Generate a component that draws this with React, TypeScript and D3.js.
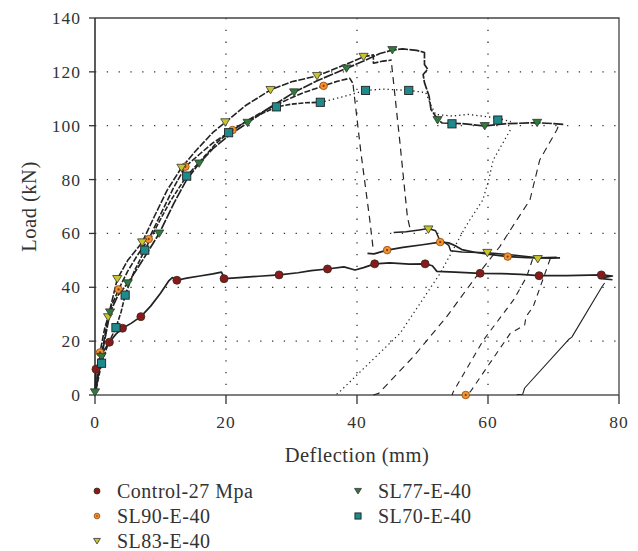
import React from "react";
import * as d3 from "d3";

// ---------- data ----------
type P = [number, number];

const xTicks = [0, 20, 40, 60, 80];
const yTicks = [0, 20, 40, 60, 80, 100, 120, 140];
const xGrid = [20, 40, 60];
const yGrid = [20, 40, 60, 80, 100, 120];

const legendNames = ["Control-27 Mpa", "SL90-E-40", "SL83-E-40", "SL77-E-40", "SL70-E-40"];

// Control-27 Mpa
const controlCurve: P[] = [
  [0, 0], [0.15, 9.6], [1, 15.2], [2.2, 19.6], [3.2, 22.6], [4.2, 24.8], [5.5, 26.6], [7, 29.1],
  [8.5, 33], [10, 37.8], [11.3, 42.5], [11.8, 43.6], [12.5, 42.6], [14, 43.4], [16, 44.2],
  [18, 45], [19.3, 45.6], [19.8, 43.2], [22, 43.6], [25, 44.1], [28.1, 44.6], [31, 45.4],
  [33, 46.2], [35.5, 46.8], [38, 47.6], [39.7, 46.4], [41, 47.3], [42.7, 48.7], [45, 49.1],
  [48, 48.6], [50.4, 48.7], [51.5, 48], [52.2, 45.9], [55, 45.6], [58.8, 45.2], [62, 45.1],
  [65, 44.8], [67.8, 44.3], [72, 44.3], [77.3, 44.6], [79, 44.2], [77, 43.3], [79, 42.8],
];
const controlUnload: P[] = [
  [77.8, 41.6], [77.4, 40.2], [72.8, 21.5], [72.3, 20.6], [65.6, 2.6], [65.3, 0.3], [64.4, 0.2],
];
const controlMarks: P[] = [
  [0.15, 9.6], [2.2, 19.6], [4.2, 24.8], [7, 29.1], [12.5, 42.6], [19.7, 43.2], [28.1, 44.6],
  [35.5, 46.8], [42.7, 48.7], [50.4, 48.7], [58.8, 45.2], [67.8, 44.3], [77.3, 44.6],
];

// SL90-E-40
const sl90Curve: P[] = [
  [0, 0], [0.76, 15.8], [1.5, 25], [2.5, 33], [3.6, 39.2], [5, 46], [6.5, 52], [8.2, 57.9],
  [10, 67], [12, 77], [13.8, 84.8], [16, 89.5], [18, 93.6], [21, 98.4], [24, 103], [27, 107],
  [30, 110.4], [32, 112.4], [34.9, 114.8], [37, 116.5], [38.9, 117.6], [39.4, 115.6],
];
const sl90Drop: P[] = [[39.4, 115.2], [40.6, 90], [41.9, 66], [42.5, 53.6]];
const sl90Residual: P[] = [
  [41.6, 52.6], [42.6, 52.4], [44.6, 53.8], [47, 54.8], [50, 55.8], [52.7, 56.8], [54, 56.5],
  [55, 55.4], [56, 54], [58, 53], [60, 52.3], [63, 51.4], [66, 51], [69.5, 50.8], [71, 50.9],
];
const sl90Unload: P[] = [
  [69.5, 50.6], [66.9, 32.8], [65.8, 29.1], [65.6, 26], [63.4, 22.9], [57.3, 1.2], [56.6, 0],
];
const sl90Marks: P[] = [
  [0.76, 15.8], [3.6, 39.2], [8.2, 57.9], [13.8, 84.8], [21, 98.4], [34.9, 114.8],
  [44.6, 53.8], [52.7, 56.8], [63, 51.4], [56.6, 0],
];

// SL83-E-40
const sl83Curve: P[] = [
  [0, 0], [1, 15], [2, 28.9], [3.4, 43.1], [5, 50], [7.2, 56.7], [9, 66], [11, 76], [13.2, 84.4],
  [15.5, 91], [18, 97.5], [19.9, 101.3], [23, 107.5], [26.8, 113.3], [30, 116.3], [33.9, 118.5],
  [37, 121.5], [39, 123.5], [41, 125.6], [42.5, 126.3], [42.5, 123.2], [44, 124], [45.3, 124.4],
];
const sl83Drop: P[] = [[45.3, 122.5], [46.5, 95], [47.7, 66], [48.1, 61.8]];
const sl83Residual: P[] = [
  [45.6, 60.3], [47.5, 60.6], [49.5, 61.3], [50.9, 61.8], [52, 61], [52.5, 58.2], [53.2, 57],
  [54, 55.6], [54.3, 53.6], [56, 53.1], [59.9, 52.8], [63, 52.2], [67.6, 51], [70.5, 51.2],
];
const sl83Unload: P[] = [
  [66.8, 50.4], [65.9, 43.9], [63.9, 35.3], [59.3, 20.4], [54.7, 1.2], [54.5, 0],
];
const sl83Marks: P[] = [
  [2.0, 28.9], [3.4, 43.1], [7.2, 56.7], [13.2, 84.4], [19.9, 101.3], [26.8, 113.3],
  [33.9, 118.5], [41, 125.6], [50.9, 61.5], [59.9, 52.8], [67.6, 50.5],
];

// SL77-E-40
const sl77Curve: P[] = [
  [0, 0], [0, 1], [1, 14.2], [2.3, 30.7], [3.5, 37], [5, 41.5], [7, 49], [9.8, 60], [12, 71],
  [14, 80], [15.9, 86], [18, 91.5], [20.5, 96.5], [23.3, 101.1], [26.5, 106.5], [30.4, 112.4],
  [34, 116.8], [38.4, 121.3], [41, 124], [43.5, 126.8], [45.4, 128.1], [47, 128.5], [49.1, 128],
  [50.3, 127.2], [50.3, 122.7], [50.8, 121], [50.1, 119], [50.3, 116], [51, 111], [51.3, 106],
  [52.3, 102.5], [53, 101], [56, 100.8], [59.5, 99.9], [63, 100.8], [67.5, 101.1], [70, 100.8],
  [71.5, 100.5],
];
const sl77Unload: P[] = [
  [70.7, 99.6], [70.5, 98.4], [67.9, 87.3], [66.4, 72.4], [64.4, 65], [61.8, 55.1], [57.8, 42.7],
  [53.7, 29.1], [48.6, 14.2], [43.3, 0.6], [42.5, 0],
];
const sl77Marks: P[] = [
  [0, 1], [1, 14.2], [2.3, 30.7], [5, 41.5], [9.8, 60], [15.9, 86], [23.3, 101.1], [30.4, 112.4],
  [38.4, 121.3], [45.4, 128.1], [52.3, 102.1], [59.5, 99.9], [67.5, 101.1],
];

// SL70-E-40
const sl70Curve: P[] = [
  [0, 0], [1, 11.8], [2, 19], [3.2, 25], [4, 31], [4.6, 37.1], [6, 46], [7.6, 53.8], [9.5, 63],
  [11.5, 72], [14, 81.3], [16.5, 88], [18.5, 93.5], [20.4, 97.4], [23, 101.5], [25.5, 104.5],
  [27.7, 107], [30, 108], [32, 108.5], [34.4, 108.7],
];
const sl70Residual: P[] = [
  [34.4, 108.7], [36, 109.6], [38.5, 111.2], [41.3, 113.1], [44, 113.6], [47.9, 113.1],
  [50.5, 112.3], [51.2, 108], [52, 104.2], [54.5, 103.6], [57, 104.2], [59, 103.6], [61.5, 102.8],
  [63.5, 101.5],
];
const sl70Unload: P[] = [
  [63.4, 98.4], [60.8, 87.3], [60.1, 79.8], [59.2, 72.4], [56.7, 63], [52.7, 45.2], [46.6, 23],
  [37.1, 0.6], [36.5, 0],
];
const sl70Marks: P[] = [
  [1, 11.8], [3.2, 25], [4.6, 37.1], [7.6, 53.8], [14, 81.3], [20.4, 97.4], [27.7, 107],
  [34.4, 108.7], [41.3, 113.1], [47.9, 113.1], [54.5, 100.7], [61.5, 102.1],
];

// ---------- layout ----------
const W = 638;
const H = 551;
const x = d3.scaleLinear().domain([0, 80]).range([95, 619]);
const y = d3.scaleLinear().domain([0, 140]).range([395, 18]);
const line = d3.line<P>().x((d) => x(d[0])).y((d) => y(d[1]));

const INK = "#222";
const FONT = "Liberation Serif";

type Seg = { pts: P[]; dash?: string; w: number };
const segments: Seg[] = [
  { pts: sl70Curve, dash: "5,1.6", w: 1.6 },
  { pts: sl70Residual, dash: "1.3,3", w: 1.3 },
  { pts: sl70Unload, dash: "1.3,3.2", w: 1.2 },
  { pts: sl90Curve, dash: "6,1.8", w: 1.6 },
  { pts: sl90Drop, dash: "7,5", w: 1.2 },
  { pts: sl90Residual, w: 1.7 },
  { pts: sl90Unload, dash: "6,5", w: 1.1 },
  { pts: sl83Curve, dash: "7,1.6", w: 1.6 },
  { pts: sl83Drop, dash: "7,5", w: 1.2 },
  { pts: sl83Residual, w: 1.5 },
  { pts: sl83Unload, dash: "6,5", w: 1.1 },
  { pts: sl77Curve, dash: "10,1.4", w: 1.7 },
  { pts: sl77Unload, dash: "7,5", w: 1.1 },
  { pts: controlCurve, w: 1.7 },
  { pts: controlUnload, w: 1.1 },
];

type Kind = "circle" | "dotcircle" | "triY" | "triG" | "square";
const markerSets: { pts: P[]; kind: Kind }[] = [
  { pts: controlMarks, kind: "circle" },
  { pts: sl90Marks, kind: "dotcircle" },
  { pts: sl83Marks, kind: "triY" },
  { pts: sl77Marks, kind: "triG" },
  { pts: sl70Marks, kind: "square" },
];
const legendKinds: Kind[] = ["circle", "dotcircle", "triY", "triG", "square"];

function Marker({ kind, cx, cy, s }: { kind: Kind; cx: number; cy: number; s: number }) {
  const st = { stroke: "#3a2a1a", strokeWidth: 0.8 };
  if (kind === "circle") return <circle cx={cx} cy={cy} r={4 * s} fill="#861a1d" {...st} />;
  if (kind === "dotcircle")
    return (
      <g>
        <circle cx={cx} cy={cy} r={3.8 * s} fill="#f39130" stroke="#8a4a10" strokeWidth={0.8} />
        <circle cx={cx} cy={cy} r={1.1 * s} fill="#7a3a10" />
      </g>
    );
  if (kind === "triY" || kind === "triG") {
    const a = 4.6 * s;
    const d = `M${cx - a},${cy - a * 0.75}L${cx + a},${cy - a * 0.75}L${cx},${cy + a * 0.85}Z`;
    return <path d={d} fill={kind === "triY" ? "#c7c42c" : "#2e7a3a"} stroke="#333" strokeWidth={0.8} />;
  }
  const h = 4.1 * s;
  return <rect x={cx - h} y={cy - h} width={2 * h} height={2 * h} fill="#1e8a8c" stroke="#222" strokeWidth={0.9} />;
}

export default function App() {
  return (
    <svg width={W} height={H} style={{ position: "absolute", left: 0, top: 0, background: "#fff" }}>
      <rect width={W} height={H} fill="#fff" />
      {/* grid */}
      {xGrid.map((v) => (
        <line key={"gx" + v} x1={x(v)} x2={x(v)} y1={y(140)} y2={y(0)} stroke="#333" strokeWidth={1.3} strokeDasharray="1.3,10.5" />
      ))}
      {yGrid.map((v) => (
        <line key={"gy" + v} x1={x(0)} x2={x(80)} y1={y(v)} y2={y(v)} stroke="#333" strokeWidth={1.3} strokeDasharray="1.3,10.5" />
      ))}
      {/* frame */}
      <path d={`M${x(0)},${y(140)}H${x(80)}V${y(0)}`} fill="none" stroke="#444" strokeWidth={1.3} />
      <line x1={x(0)} x2={x(80)} y1={y(0)} y2={y(0)} stroke="#555" strokeWidth={1.6} />
      <line x1={x(0)} x2={x(0)} y1={y(0)} y2={y(140)} stroke="#333" strokeWidth={1.6} />
      {xTicks.map((v) => (
        <g key={"xt" + v}>
          <line x1={x(v)} x2={x(v)} y1={y(0)} y2={y(0) + 9} stroke="#333" strokeWidth={1.3} />
          <text x={x(v)} y={428} textAnchor="middle" style={{ fontFamily: FONT, fontSize: 17.5, letterSpacing: 1 }} fill="#333">
            {v}
          </text>
        </g>
      ))}
      {yTicks.map((v) => (
        <g key={"yt" + v}>
          <line x1={x(0) - 6} x2={x(0)} y1={y(v)} y2={y(v)} stroke="#333" strokeWidth={1.3} />
          <text x={81} y={y(v) + 6} textAnchor="end" style={{ fontFamily: FONT, fontSize: 17.5, letterSpacing: 1 }} fill="#333">
            {v}
          </text>
        </g>
      ))}
      {/* axis titles */}
      <text x={357} y={462} textAnchor="middle" style={{ fontFamily: FONT, fontSize: 20.5, letterSpacing: 0.5 }} fill="#333">
        Deflection (mm)
      </text>
      <text transform={`translate(36,${(y(0) + y(140)) / 2}) rotate(-90)`} textAnchor="middle" style={{ fontFamily: FONT, fontSize: 20.5, letterSpacing: 0.5 }} fill="#333">
        Load (kN)
      </text>
      {/* curves */}
      {segments.map((s, i) => (
        <path key={"s" + i} d={line(s.pts) || ""} fill="none" stroke={INK} strokeWidth={s.w} strokeDasharray={s.dash} strokeLinejoin="round" />
      ))}
      {/* markers */}
      {markerSets.map((m, i) =>
        m.pts.map((p, j) => <Marker key={i + "-" + j} kind={m.kind} cx={x(p[0])} cy={y(p[1])} s={1} />)
      )}
      {/* legend */}
      {legendNames.map((n, i) => {
        const col = i < 3 ? 0 : 1;
        const row = col === 0 ? i : i - 3;
        const mx = col === 0 ? 97 : 358;
        const my = 491 + row * 25;
        return (
          <g key={"lg" + i}>
            <Marker kind={legendKinds[i]} cx={mx} cy={my} s={0.75} />
            <text x={mx + 20} y={my + 6.5} style={{ fontFamily: FONT, fontSize: 20, letterSpacing: 0.5 }} fill="#333">
              {n}
            </text>
          </g>
        );
      })}
    </svg>
  );
}
